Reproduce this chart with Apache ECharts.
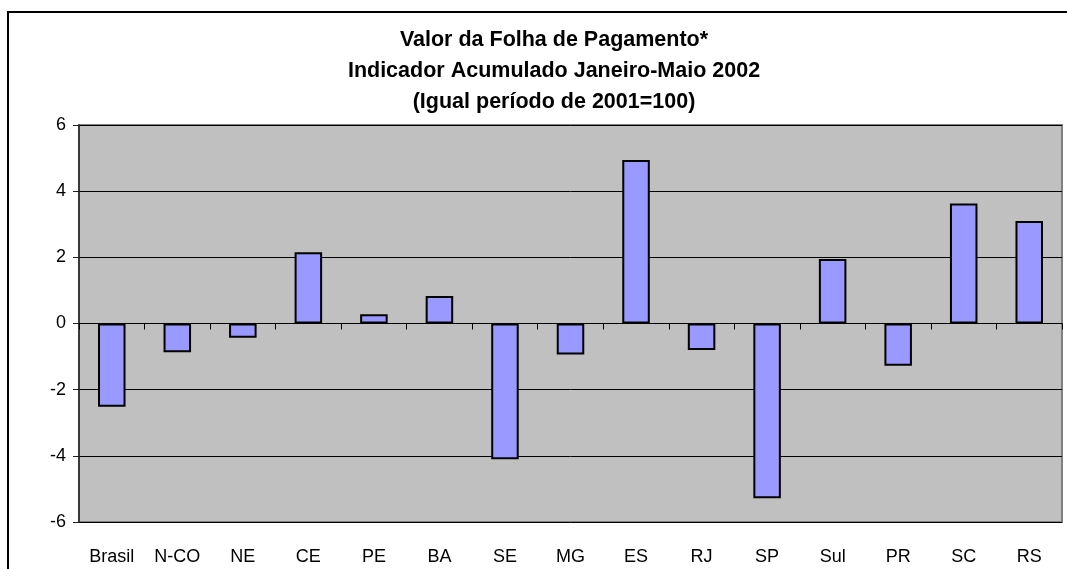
<!DOCTYPE html>
<html>
<head>
<meta charset="utf-8">
<title>Valor da Folha de Pagamento</title>
<script src="https://cdn.jsdelivr.net/npm/echarts@6/dist/echarts.min.js"></script>
<style>
    html, body {
        margin: 0;
        padding: 0;
        background: #fff;
    }

    #chart {
        width: 1067px;
        height: 569px;
    }
</style>
</head>
<body>
<div id="chart"></div>
<script>
// categorias (regiões / estados)
const categories = ['Brasil', 'N-CO', 'NE', 'CE', 'PE', 'BA', 'SE', 'MG', 'ES', 'RJ', 'SP', 'Sul', 'PR', 'SC', 'RS']
// variação acumulada jan-mai 2002
const values = [-2.52, -0.87, -0.43, 2.15, 0.28, 0.83, -4.10, -0.94, 4.94, -0.80, -5.28, 1.95, -1.28, 3.63, 3.10]
// linhas do título
const titleLines = ['Valor da Folha de Pagamento*', 'Indicador Acumulado Janeiro-Maio 2002', '(Igual período de 2001=100)']

const font = 'Liberation Sans, Arial, sans-serif'
const myChart = echarts.init(document.getElementById('chart'))

const options = {
    animation: false,
    backgroundColor: '#fff',
    title: {
        text: titleLines.join('\n'),
        left: 549,
        top: 20,
        textAlign: 'center',
        textStyle: {
            fontFamily: font,
            fontSize: 21.5,
            fontWeight: 'bold',
            color: '#000',
            lineHeight: 31
        }
    },
    // moldura externa do gráfico
    graphic: [
        {
            type: 'rect',
            shape: { x: 8, y: 12, width: 1100, height: 600 },
            style: { fill: 'none', stroke: '#000', lineWidth: 2 },
            silent: true
        }
    ],
    grid: {
        left: 79,
        right: 5,
        top: 125,
        bottom: 47,
        show: true,
        backgroundColor: '#C0C0C0',
        borderColor: '#808080',
        borderWidth: 2
    },
    xAxis: [
        {
            // eixo no zero: linha e marcas
            type: 'category',
            data: categories,
            axisLine: { onZero: true, lineStyle: { color: '#000', width: 1 } },
            axisTick: { show: true, length: 6, lineStyle: { color: '#000' } },
            axisLabel: { show: false },
            splitLine: { show: false }
        },
        {
            // rótulos na base
            type: 'category',
            data: categories,
            position: 'bottom',
            axisLine: { show: false, onZero: false },
            axisTick: { show: false },
            axisLabel: {
                margin: 26,
                fontFamily: font,
                fontSize: 18,
                color: '#000'
            }
        }
    ],
    yAxis: {
        type: 'value',
        min: -6,
        max: 6,
        interval: 2,
        axisLine: { show: true, lineStyle: { color: '#222', width: 1.5 } },
        axisTick: { show: true, length: 6, lineStyle: { color: '#222' } },
        axisLabel: {
            margin: 13,
            fontFamily: font,
            fontSize: 18,
            color: '#000'
        },
        splitLine: { show: true, lineStyle: { color: '#000', width: 1 } }
    },
    series: [
        {
            type: 'bar',
            xAxisIndex: 0,
            data: values,
            barCategoryGap: '58%',
            itemStyle: {
                color: '#9999FF',
                borderColor: '#000',
                borderWidth: 2
            }
        }
    ]
}

myChart.setOption(options)
</script>
</body>
</html>
